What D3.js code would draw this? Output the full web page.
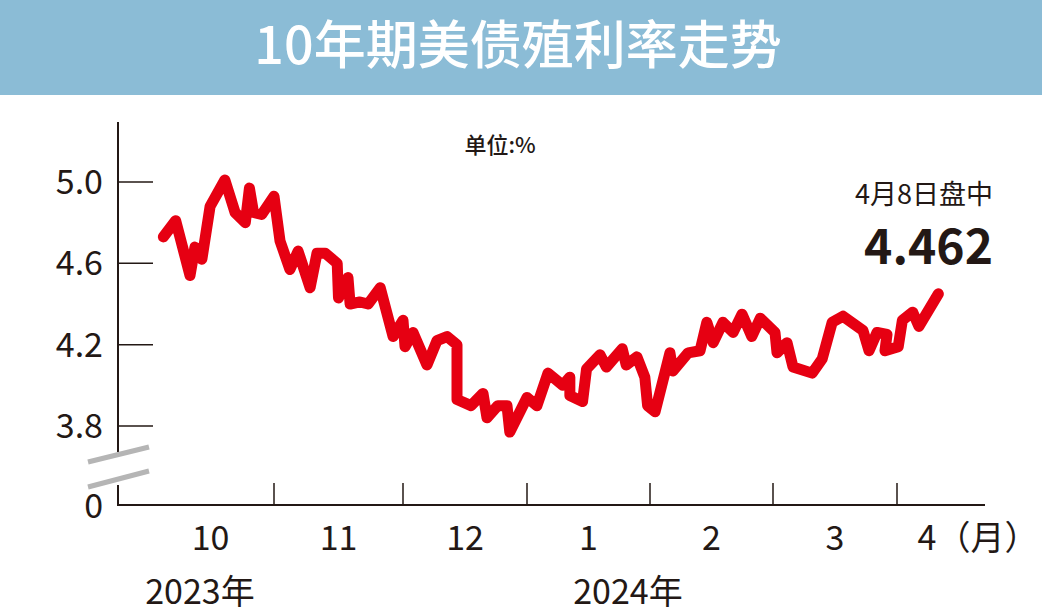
<!DOCTYPE html>
<html><head><meta charset="utf-8">
<script src="https://cdn.jsdelivr.net/npm/d3@7"></script>
<style>body{margin:0;background:#fff}svg{display:block}text{font-family:"Noto Sans CJK SC","Liberation Sans",sans-serif;fill:#231815}</style>
</head><body><svg id="c" width="1042" height="615"></svg>
<script>
// days since 2023-10-01
const days = [4,7,10.5,11.7,13.4,15.4,19,21.5,24,25,26,28,31,32.4,34.7,36.6,39.4,41,42.9,45.7,46,48.2,48.7,51,52.9,55.7,58.7,61,61.5,63.5,67,69.5,72,74.5,74.5,78,81,82,84.7,87,87.7,92,94.5,97.3,101,102.8,102.8,106,107,110.4,112,116,117,119.7,121.7,122.4,124.2,127.7,128.4,132,134.8,136.4,137.9,140.2,142.6,144.7,147,149,152.5,153,155.5,157,161.8,164.3,166.8,169.5,174.5,176,178,180.5,180,183.3,184.3,186.8,188.3,193];
const yields = [4.73,4.81,4.54,4.68,4.62,4.88,5.01,4.85,4.80,4.97,4.85,4.84,4.93,4.71,4.57,4.66,4.48,4.65,4.65,4.60,4.43,4.53,4.40,4.41,4.40,4.48,4.24,4.32,4.19,4.26,4.10,4.22,4.24,4.20,3.93,3.90,3.96,3.84,3.90,3.90,3.77,3.94,3.90,4.06,4.00,4.04,3.95,3.92,4.08,4.15,4.09,4.18,4.10,4.14,4.04,3.90,3.87,4.16,4.07,4.16,4.17,4.31,4.21,4.31,4.26,4.35,4.24,4.33,4.26,4.16,4.21,4.09,4.06,4.13,4.31,4.34,4.27,4.17,4.26,4.25,4.17,4.19,4.32,4.36,4.29,4.45];
const monthStarts = [0,31,61,92,123,152,183,213];
const monthLabels = ["10","11","12","1","2","3","4（月）"];
const yTicks = [5.0,4.6,4.2,3.8];

const svg = d3.select("#c");
svg.append("rect").attr("width",1042).attr("height",95).attr("fill","#8bbcd6");
svg.append("text").attr("x",518).attr("y",64).attr("text-anchor","middle").attr("font-size",52).attr("font-weight",500).style("fill","#fff").text("10年期美债殖利率走势");

const x = d3.scaleLinear().domain(monthStarts).range([147,274,403,527,650,773,897,1021]);
const y = d3.scaleLinear().domain([3.8,5.0]).range([426,182]);

const ax = "#231815";
svg.append("line").attr("x1",118).attr("x2",118).attr("y1",122).attr("y2",452).attr("stroke",ax).attr("stroke-width",2);
svg.append("line").attr("x1",118).attr("x2",118).attr("y1",485).attr("y2",505).attr("stroke",ax).attr("stroke-width",2);
svg.append("line").attr("x1",117).attr("x2",985).attr("y1",505).attr("y2",505).attr("stroke",ax).attr("stroke-width",2);
yTicks.forEach(t=>{
  svg.append("line").attr("x1",118).attr("x2",153).attr("y1",y(t)).attr("y2",y(t)).attr("stroke",ax).attr("stroke-width",1.5);
  svg.append("text").attr("x",103).attr("y",y(t)+12).attr("text-anchor","end").attr("font-size",34).attr("font-family","Liberation Sans").text(t.toFixed(1));
});
svg.append("text").attr("x",103).attr("y",518).attr("text-anchor","end").attr("font-size",34).attr("font-family","Liberation Sans").text("0");
[[462,447],[487,471]].forEach(([a,b])=>svg.append("line").attr("x1",88).attr("x2",149).attr("y1",a).attr("y2",b).attr("stroke","#b5b5b5").attr("stroke-width",5));
monthStarts.slice(1,7).forEach(d=>svg.append("line").attr("x1",x(d)).attr("x2",x(d)).attr("y1",505).attr("y2",483).attr("stroke",ax).attr("stroke-width",1.5));
monthLabels.forEach((m,i)=>svg.append("text").attr("x",i<6?(x(monthStarts[i])+x(monthStarts[i+1]))/2:978).attr("y",550).attr("text-anchor","middle").attr("font-size",34).attr("font-family",i<6?"Liberation Sans":null).text(m));
svg.append("text").attr("x",200).attr("y",604).attr("text-anchor","middle").attr("font-size",34).text("2023年");
svg.append("text").attr("x",628).attr("y",604).attr("text-anchor","middle").attr("font-size",34).text("2024年");
svg.append("text").attr("x",500).attr("y",153).attr("text-anchor","middle").attr("font-size",22).attr("font-weight",500).text("单位:%");
svg.append("text").attr("x",993).attr("y",204).attr("text-anchor","end").attr("font-size",27).text("4月8日盘中");
svg.append("text").attr("x",993).attr("y",264).attr("text-anchor","end").attr("font-size",48).attr("font-weight","bold").attr("font-family","Liberation Sans").text("4.462");

const line = d3.line().x((d,i)=>x(days[i])).y(d=>y(d));
svg.append("path").attr("d",line(yields)).attr("fill","none").attr("stroke","#e60012").attr("stroke-width",11).attr("stroke-linejoin","round").attr("stroke-linecap","round");
</script></body></html>
